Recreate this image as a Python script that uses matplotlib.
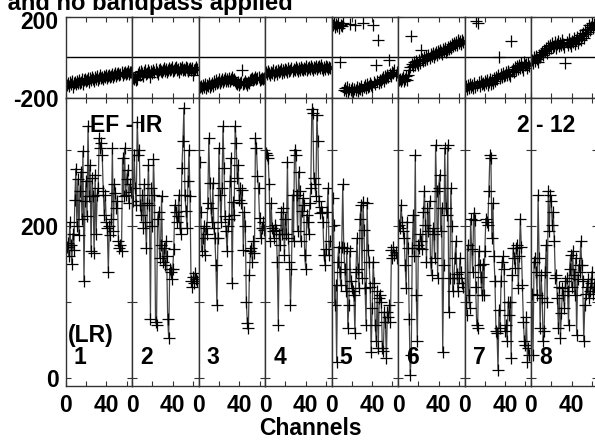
import matplotlib
matplotlib.use('Agg')
import matplotlib.pyplot as plt
import matplotlib.transforms as mtransforms

W, H = 595, 440
plt.rcParams['font.family'] = ['Liberation Sans', 'DejaVu Sans']
plt.rcParams['font.weight'] = 'bold'
plt.rcParams['font.size'] = 16.5

channels = list(range(1, 65))

# amplitude per IF
amp_if1 = [173, 178, 160, 205, 175, 150, 190, 168, 235, 276, 200, 262, 188, 246, 272, 210,
           299, 127, 233, 260, 213, 332, 240, 280, 167, 263, 240, 164, 268, 190, 241, 250,
           316, 303, 310, 294, 246, 215, 241, 206, 197, 140, 200, 188, 210, 303, 193, 255,
           244, 224, 233, 180, 171, 175, 167, 290, 240, 303, 241, 262, 274, 230, 255, 245]
amp_if2 = [233, 294, 250, 228, 338, 294, 300, 228, 215, 241, 197, 255, 206, 171, 230, 281,
           228, 78, 250, 200, 288, 241, 74, 70, 210, 219, 158, 175, 240, 153, 171, 149,
           180, 160, 78, 52, 144, 140, 130, 144, 170, 228, 219, 206, 214, 241, 197, 190,
           277, 312, 356, 241, 220, 197, 260, 300, 240, 127, 120, 133, 125, 138, 130, 128]
amp_if3 = [285, 219, 167, 184, 200, 162, 197, 190, 230, 316, 257, 224, 206, 257, 197, 184,
           149, 96, 184, 303, 241, 206, 250, 332, 277, 213, 193, 167, 200, 210, 259, 290,
           125, 232, 215, 332, 310, 263, 281, 235, 250, 230, 248, 169, 219, 200, 100, 72,
           65, 136, 167, 171, 153, 180, 165, 316, 303, 266, 250, 211, 184, 197, 205, 195]
amp_if4 = [296, 294, 290, 255, 180, 230, 197, 193, 184, 202, 195, 153, 70, 189, 175, 219,
           189, 224, 162, 210, 189, 285, 184, 153, 96, 144, 241, 180, 301, 294, 241, 193,
           272, 246, 180, 220, 237, 228, 162, 144, 215, 206, 189, 230, 250, 354, 349, 263,
           255, 240, 347, 312, 233, 217, 225, 219, 205, 162, 149, 170, 219, 250, 162, 180]
amp_if5 = [237, 202, 96, 122, 21, 153, 173, 140, 122, 173, 255, 171, 144, 114, 171, 65,
           96, 167, 127, 118, 114, 109, 59, 140, 184, 144, 118, 210, 228, 131, 232, 195,
           118, 70, 230, 169, 153, 120, 34, 92, 153, 125, 70, 48, 114, 39, 105, 109,
           100, 39, 35, 87, 74, 26, 87, 80, 96, 74, 169, 158, 173, 162, 166, 158]
amp_if6 = [202, 197, 228, 206, 193, 184, 149, 118, 206, 171, 78, 4, 30, 171, 215, 160,
           294, 109, 48, 175, 171, 190, 180, 170, 219, 246, 202, 153, 224, 193, 233, 153,
           136, 197, 190, 158, 307, 246, 131, 250, 268, 193, 224, 34, 149, 303, 224, 215,
           307, 87, 131, 250, 200, 114, 131, 158, 180, 137, 114, 131, 158, 140, 125, 120]
amp_if7 = [100, 83, 175, 109, 92, 210, 170, 140, 217, 208, 120, 70, 65, 167, 149, 133,
           109, 150, 109, 167, 210, 206, 202, 246, 294, 290, 184, 230, 160, 127, 61, 59,
           10, 90, 65, 127, 153, 160, 144, 61, 70, 48, 100, 83, 100, 26, 136, 171,
           158, 145, 171, 175, 118, 160, 210, 173, 122, 74, 48, 43, 80, 21, 39, 30]
amp_if8 = [111, 30, 153, 158, 140, 109, 241, 158, 65, 136, 105, 48, 61, 140, 175, 100,
           246, 193, 241, 233, 202, 219, 180, 131, 136, 105, 65, 120, 52, 85, 118, 109,
           92, 127, 131, 114, 70, 144, 162, 120, 167, 136, 109, 158, 56, 130, 149, 140,
           180, 149, 127, 48, 96, 110, 120, 130, 105, 115, 125, 140, 110, 120, 130, 115]

# phase per IF (degrees, upper panels)
ph_if1 = [-135, -128, -140, -122, -131, -118, -145, -126, -120, -133, -115, -127, -110, -124, -119, -108,
          -130, -112, -105, -118, -109, -100, -121, -103, -112, -98, -107, -115, -96, -104, -92, -110,
          -99, -88, -102, -95, -105, -90, -98, -86, -100, -93, -84, -96, -89, -80, -94, -85,
          -78, -91, -83, -76, -88, -80, -72, -86, -78, -70, -82, -75, -68, -80, -74, -70]
ph_if2 = [-100, -108, -96, -112, -104, -80, -72, -85, -68, -78, -90, -70, -64, -82, -75, -60,
          -72, -95, -66, -78, -62, -70, -58, -74, -80, -64, -55, -68, -72, -60, -52, -66,
          -58, -70, -62, -50, -64, -56, -48, -68, -60, -54, -46, -62, -56, -70, -50, -58,
          -45, -64, -55, -60, -48, -52, -66, -58, -50, -62, -54, -85, -60, -56, -48, -58]
ph_if3 = [-148, -140, -152, -136, -145, -132, -150, -138, -142, -128, -146, -135, -125, -140, -118, -130,
          -112, -125, -120, -108, -128, -115, -104, -122, -110, -100, -118, -108, -114, -102, -116, -105,
          -96, -112, -108, -118, -125, -130, -120, -138, -128, -122, -60, -132, -125, -118, -128, -135,
          -120, -126, -110, -104, -100, -112, -106, -98, -108, -102, -95, -110, -104, -100, -108, -102]
ph_if4 = [-72, -82, -68, -78, -88, -70, -76, -64, -84, -72, -66, -80, -60, -74, -68, -58,
          -76, -64, -70, -56, -62, -72, -54, -66, -60, -50, -68, -58, -62, -48, -56, -66,
          -52, -60, -46, -58, -64, -50, -55, -44, -60, -52, -48, -58, -42, -54, -62, -46,
          -50, -40, -56, -48, -44, -52, -38, -50, -60, -45, -55, -42, -48, -58, -46, -52]
ph_if5 = [160, 172, 150, 165, 155, 175, 148, -20, 162, 158, 170, -160, -152, -165, -148, -170,
          -158, 165, -162, -150, -168, -155, 160, -160, -145, -165, -150, -158, -142, -162, 168, -148,
          -138, -152, -130, -145, -140, -125, -135, -148, 162, -120, -132, -36, -115, 88, -128, -110,
          -122, -105, -98, -115, -90, -102, -85, -96, -12, -80, -92, -70, -78, -60, -85, -72]
ph_if6 = [-112, -105, -118, -108, -98, -115, -104, -92, -110, -88, -60, -45, 104, -30, -40, -22,
          -35, -15, -28, -38, -10, -25, 38, -5, -18, 2, -12, 8, -8, 12, -2, 15,
          5, 20, 0, 18, 25, 10, 30, 22, 35, 28, 15, 40, 32, 45, 25, 38,
          50, 42, 58, 48, 65, 55, 70, 62, 78, 60, 85, 72, 80, 68, 88, 75]
ph_if7 = [-142, -155, -135, -150, -130, -148, -138, -152, -128, -145, 178, -135, 170, -122, -140, -118,
          -132, -125, -138, -115, -128, -110, -135, -120, -105, -130, -112, -125, -100, -118, -95, -108,
          -88, 0, -100, -82, -96, -75, -90, -85, -72, -88, -68, -80, -92, 82, -65, -55,
          -70, -48, -62, -40, -58, -35, -50, -28, -45, -60, -22, -38, -30, -52, -25, -42]
ph_if8 = [-10, -25, 0, -18, 5, -8, -22, 10, 2, 18, 25, 12, 38, 30, 48, 22,
          55, 40, 62, 45, 70, 52, 58, 75, 48, 65, 80, 55, 72, 60, 85, 68,
          50, -25, 78, 62, 90, 70, 58, 82, 75, 95, 65, 88, 100, 72, 92, 110,
          85, 105, 120, 98, 135, 115, 142, 125, 160, 138, 150, 170, 145, 165, 155, 175]

amps = [amp_if1, amp_if2, amp_if3, amp_if4, amp_if5, amp_if6, amp_if7, amp_if8]
phases = [ph_if1, ph_if2, ph_if3, ph_if4, ph_if5, ph_if6, ph_if7, ph_if8]
if_labels = ['1', '2', '3', '4', '5', '6', '7', '8']


def px(x):
    return x / W


def py(y):
    return 1 - y / H


fig = plt.figure(figsize=(W / 100, H / 100), dpi=100)
left0 = 65.7
step = 66.47
frame = '#333333'

for i in range(8):
    x0 = left0 + i * step
    ax_ph = fig.add_axes([px(x0), py(98), step / W, 81 / H])
    ax_amp = fig.add_axes([px(x0), py(385.7), step / W, 287.7 / H])

    ax_ph.plot(channels, phases[i], ls='none', marker='+', ms=8, mew=0.9, color='black')
    ax_ph.axhline(0, color='black', lw=1)
    ax_ph.set_ylim(-200, 200)
    ax_ph.set_yticks([-200, 200], ['-200', '200'])

    ax_amp.plot(channels, amps[i], color='#444444', lw=0.9, marker='+', ms=8, mew=0.9, mec='black')
    ax_amp.set_ylim(-10.5, 369)
    ax_amp.set_yticks([0, 100, 200, 300], ['0', '', '200', ''])

    for ax in (ax_ph, ax_amp):
        ax.set_xlim(0, 65.5)
        ax.set_xticks([0, 20, 40, 60], ['0', '', '40', ''])
        ax.tick_params(direction='in', top=True, right=True, length=3.6, width=0.8,
                       color=frame, labelsize=16.5)
        ax.tick_params(axis='x', pad=6)
        ax.tick_params(axis='y', pad=5)
        for s in ax.spines.values():
            s.set_color(frame)
            s.set_linewidth(1.0)
        if i > 0:
            ax.tick_params(labelleft=False)
    ax_ph.tick_params(labelbottom=False)

    if i == 0:
        # nudge the top phase label down a little, as in the original
        shift = mtransforms.ScaledTranslation(0, -3 / 100, fig.dpi_scale_trans)
        for lab in ax_ph.get_yticklabels()[1:]:
            lab.set_transform(lab.get_transform() + shift)

    fig.text(px(x0 + 14.5), py(364), if_labels[i], ha='center', va='baseline')

fig.text(px(68), py(341.7), '(LR)', ha='left', va='baseline')
fig.text(px(90), py(131.7), 'EF - IR', ha='left', va='baseline')
fig.text(px(516.7), py(131.7), '2 - 12', ha='left', va='baseline')
fig.text(px(310), py(435), 'Channels', ha='center', va='baseline')
fig.text(px(293), py(10), 'Amplitude and phase with gain cal and no bandpass applied',
         ha='right', va='baseline', fontsize=17.1)

fig.savefig('out.png', dpi=100)
